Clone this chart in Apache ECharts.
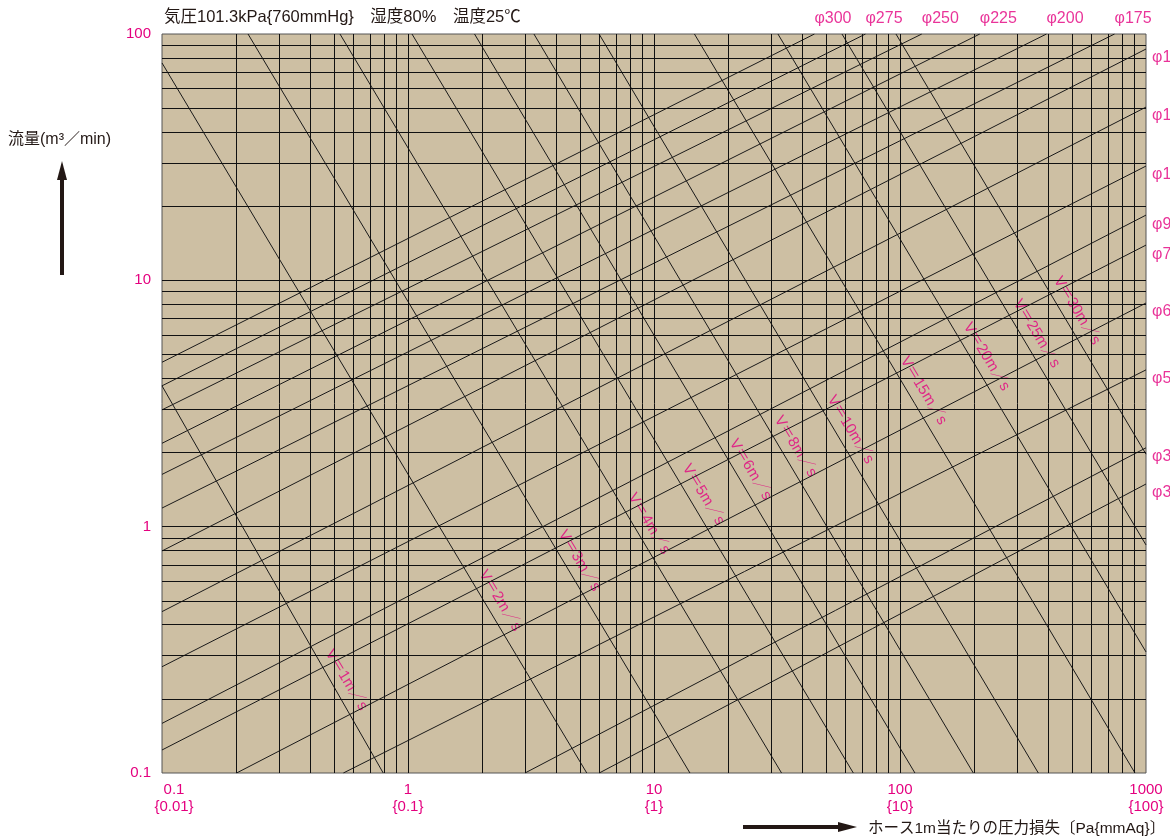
<!DOCTYPE html>
<html>
<head>
<meta charset="utf-8">
<script src="https://cdn.jsdelivr.net/npm/echarts@6/dist/echarts.min.js"></script>
<style>
html, body { margin: 0; padding: 0; background: #fff; }
#chart { width: 1170px; height: 839px; }
</style>
</head>
<body>
<div id="chart"></div>
<script>
// axis ticks
var xTicks = [0.1, 1, 10, 100, 1000];
var xTickSub = ['{0.01}', '{0.1}', '{1}', '{10}', '{100}'];
var gridX = [0.2, 0.3, 0.4, 0.5, 0.6, 0.7, 0.8, 0.9, 1, 2, 3, 4, 5, 6, 7, 8, 9, 10,
    20, 30, 40, 50, 60, 70, 80, 90, 100, 200, 300, 400, 500, 600, 700, 800, 900];
var gridY = [0.2, 0.3, 0.4, 0.5, 0.6, 0.7, 0.8, 0.9, 1, 2, 3, 4, 5, 6, 7, 8, 9, 10,
    20, 30, 40, 50, 60, 70, 80, 90];

// hose diameter lines: start and end points [pressure loss, flow]
var pipeNames = ['φ300', 'φ275', 'φ250', 'φ225', 'φ200', 'φ175', 'φ150', 'φ125', 'φ100',
    'φ90', 'φ75', 'φ65', 'φ50', 'φ38', 'φ32'];
var pipeStart = [[0.1, 4.65], [0.1, 3.73], [0.1, 2.98], [0.1, 2.18], [0.1, 1.63], [0.1, 1.19],
    [0.1, 0.797], [0.1, 0.452], [0.1, 0.27], [0.1, 0.159], [0.1, 0.124],
    [0.201, 0.1], [0.546, 0.1], [2.99, 0.1], [5.99, 0.1]];
var pipeEnd = [[44.9, 100], [72.4, 100], [122.6, 100], [211, 100], [394, 100], [745, 100],
    [1000, 86.9], [1000, 50.5], [1000, 29.1], [1000, 18.4], [1000, 13.9],
    [1000, 8.09], [1000, 4.33], [1000, 2.09], [1000, 1.49]];

// air velocity lines
var velNames = ['V＝1m／s', 'V＝2m／s', 'V＝3m／s', 'V＝4m／s', 'V＝5m／s', 'V＝6m／s',
    'V＝8m／s', 'V＝10m／s', 'V＝15m／s', 'V＝20m／s', 'V＝25m／s', 'V＝30m／s'];
var velStart = [[0.1, 3.73], [0.1, 76.3], [0.2237, 100], [0.529, 100], [1.038, 100], [1.864, 100],
    [3.25, 100], [5.98, 100], [14.6, 100], [31.9, 100], [58.1, 100], [96.3, 100]];
var velEnd = [[0.793, 0.1], [5.33, 0.1], [14.0, 0.1], [33.0, 0.1], [64.6, 0.1], [115, 0.1],
    [198.6, 0.1], [365, 0.1], [902, 0.1], [1000, 0.31], [1000, 0.843], [1000, 1.97]];
// flow value at which each velocity label sits
var velLabelQ = [0.238, 0.499, 0.725, 1.025, 1.345, 1.70, 2.11, 2.47, 3.55, 4.88, 6.06, 7.51];

var MAG = '#e4007f';
var INK = '#231815';
var FONT = "'Liberation Sans', 'Noto Sans CJK JP', sans-serif";

var chart = echarts.init(document.getElementById('chart'));

function lg(v) { return Math.log(v) / Math.LN10; }

var series = [];

// grid lines
series.push({
    type: 'line',
    data: [],
    silent: true,
    markLine: {
        silent: true,
        animation: false,
        symbol: ['none', 'none'],
        label: { show: false },
        lineStyle: { color: '#111', width: 1, type: 'solid' },
        data: gridX.map(function (v) { return { xAxis: v }; })
            .concat(gridY.map(function (v) { return { yAxis: v }; }))
    }
});

pipeNames.forEach(function (n, i) {
    series.push({
        type: 'line',
        name: n,
        data: [pipeStart[i], pipeEnd[i]],
        showSymbol: false,
        silent: true,
        lineStyle: { color: '#1a1a1a', width: 1 }
    });
});

velNames.forEach(function (n, i) {
    series.push({
        type: 'line',
        name: n,
        data: [velStart[i], velEnd[i]],
        showSymbol: false,
        silent: true,
        lineStyle: { color: '#1a1a1a', width: 1 }
    });
});

// diameter tags at the line ends
series.push({
    type: 'scatter',
    symbolSize: 0,
    clip: false,
    silent: true,
    data: pipeEnd.map(function (p, i) {
        var top = p[1] >= 100;
        return {
            value: p,
            name: pipeNames[i],
            label: top
                ? { position: 'top', align: 'left', distance: 7 }
                : { position: 'right', align: 'left', distance: 6, offset: [0, 9] }
        };
    }),
    label: { show: true, formatter: '{b}', color: MAG, fontSize: 16, fontFamily: FONT }
});

// velocity tags along the lines
series.push({
    type: 'scatter',
    symbolSize: 0,
    clip: false,
    silent: true,
    data: velNames.map(function (n, i) {
        var a = velStart[i], b = velEnd[i];
        var t = (lg(velLabelQ[i]) - lg(a[1])) / (lg(b[1]) - lg(a[1]));
        var lx = lg(a[0]) + t * (lg(b[0]) - lg(a[0]));
        return { value: [Math.pow(10, lx), velLabelQ[i]], name: n };
    }),
    label: {
        show: true,
        formatter: '{b}',
        position: 'inside',
        rotate: -59,
        offset: [8, -14],
        align: 'center',
        verticalAlign: 'middle',
        color: MAG,
        fontSize: 15,
        fontFamily: FONT
    }
});

var option = {
    animation: false,
    backgroundColor: '#fff',
    grid: {
        left: 162, right: 24, top: 34, bottom: 66,
        show: true,
        backgroundColor: '#cdbfa3',
        borderColor: '#555',
        borderWidth: 1
    },
    xAxis: {
        type: 'log',
        logBase: 10,
        min: 0.1,
        max: 1000,
        axisLine: { show: false },
        axisTick: { show: false },
        splitLine: { show: false },
        axisLabel: {
            color: MAG,
            fontSize: 15,
            fontFamily: FONT,
            lineHeight: 17,
            margin: 8,
            rich: { pad: { width: 24 } },
            formatter: function (v) {
                for (var i = 0; i < xTicks.length; i++) {
                    if (Math.abs(lg(v) - lg(xTicks[i])) < 1e-6) {
                        // the first label sits a little inside the frame
                        var p = i === 0 ? '{pad| }' : '';
                        return p + xTicks[i] + '\n' + p + xTickSub[i];
                    }
                }
                return '';
            }
        }
    },
    yAxis: {
        type: 'log',
        logBase: 10,
        min: 0.1,
        max: 100,
        axisLine: { show: false },
        axisTick: { show: false },
        splitLine: { show: false },
        axisLabel: { color: MAG, fontSize: 15, fontFamily: FONT, margin: 11 }
    },
    graphic: [
        {
            type: 'text', x: 164, y: 17,
            style: { text: '気圧101.3kPa{760mmHg}　湿度80%　温度25℃', fill: INK,
                font: '16.5px ' + FONT, verticalAlign: 'middle' }
        },
        {
            type: 'text', x: 8, y: 140,
            style: { text: '流量(m³／min)', fill: INK, font: '16px ' + FONT, verticalAlign: 'middle' }
        },
        { type: 'rect', shape: { x: 60, y: 178, width: 4, height: 97 }, style: { fill: INK } },
        { type: 'polygon', shape: { points: [[62, 161], [57, 180], [67, 180]] }, style: { fill: INK } },
        { type: 'rect', shape: { x: 743, y: 825, width: 98, height: 4 }, style: { fill: INK } },
        { type: 'polygon', shape: { points: [[857, 827], [838, 822], [838, 832]] }, style: { fill: INK } },
        {
            type: 'text', x: 868, y: 829,
            style: { text: 'ホース1m当たりの圧力損失〔Pa{mmAq}〕', fill: INK,
                font: '15.5px ' + FONT, verticalAlign: 'middle' }
        }
    ],
    series: series
};

chart.setOption(option);
</script>
</body>
</html>
